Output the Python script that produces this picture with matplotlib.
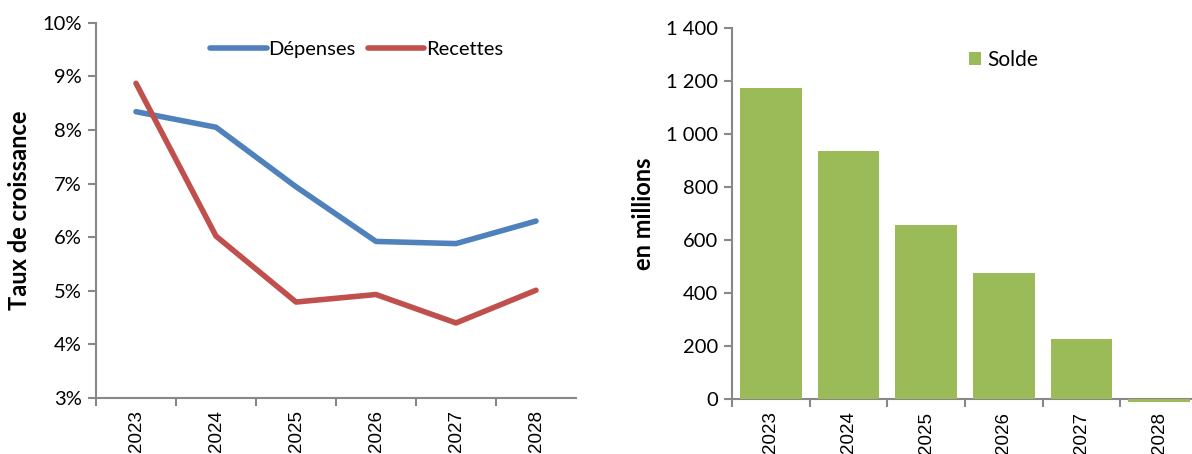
import matplotlib.pyplot as plt
import numpy as np
from matplotlib.ticker import FuncFormatter

years = ["2023", "2024", "2025", "2026", "2027", "2028"]
depenses = [8.34, 8.05, 6.94, 5.92, 5.88, 6.30]
recettes = [8.87, 6.02, 4.79, 4.93, 4.40, 5.01]
solde = [1171, 936, 655, 476, 227, -10]

blue = "#4F81BD"
red = "#C0504D"
green = "#9BBB59"
grey = "#888888"

plt.rcParams["font.family"] = ["Lato", "DejaVu Sans"]

fig = plt.figure(figsize=(11.92, 4.54), dpi=100)
ax1 = fig.add_axes([96/1192, 1-398/454, 480/1192, (398-22.7)/454])
ax2 = fig.add_axes([732/1192, 1-399/454, 466/1192, (399-27.7)/454])

x = np.arange(len(years))

def style_axis(ax):
    for s in ["top", "right"]:
        ax.spines[s].set_visible(False)
    for s in ["left", "bottom"]:
        ax.spines[s].set_color(grey)
        ax.spines[s].set_linewidth(1.5)
    ax.set_xlim(-0.5, len(years) - 0.5)
    ax.set_xticks(np.arange(len(years)) - 0.5)
    ax.set_xticks(x, minor=True)
    ax.set_xticklabels([])
    ax.set_xticklabels(years, minor=True, rotation=90, family="Liberation Sans", fontsize=13.5)
    ax.tick_params(axis="x", which="major", length=6, width=1.5, color=grey)
    ax.tick_params(axis="x", which="minor", length=0, pad=9)
    ax.tick_params(axis="y", length=6, width=1.5, color=grey, labelsize=14.5, pad=4)

# left: growth rates
ax1.plot(x, depenses, color=blue, lw=4, label="Dépenses", solid_capstyle="round")
ax1.plot(x, recettes, color=red, lw=4, label="Recettes", solid_capstyle="round")
style_axis(ax1)
ax1.set_ylim(3, 10)
ax1.set_yticks(range(3, 11))
ax1.yaxis.set_major_formatter(FuncFormatter(lambda v, p: f"{v:.0f}%"))
ax1.set_ylabel("Taux de croissance", fontsize=17, fontweight="bold", labelpad=8)
ax1.legend(loc="upper left", bbox_to_anchor=(0.2, 1.0), ncol=2, frameon=False,
           fontsize=14.5, handlelength=2.8, handletextpad=0.1, columnspacing=0.6)

# right: balance
ax2.bar(x, solde, width=0.79, color=green, label="Solde", zorder=3)
style_axis(ax2)
ax2.set_ylim(0, 1400)
ax2.set_yticks(range(0, 1401, 200))
ax2.yaxis.set_major_formatter(FuncFormatter(lambda v, p: f"{int(v):,}".replace(",", " ")))
ax2.set_ylabel("en millions", fontsize=17, fontweight="bold", labelpad=8)
for b in ax2.patches:
    b.set_clip_on(False)
ax2.legend(loc="upper left", bbox_to_anchor=(0.468, 0.99), frameon=False, fontsize=15,
           handlelength=0.6, handleheight=0.6, handletextpad=0.3)

fig.savefig("out.png", dpi=100)
